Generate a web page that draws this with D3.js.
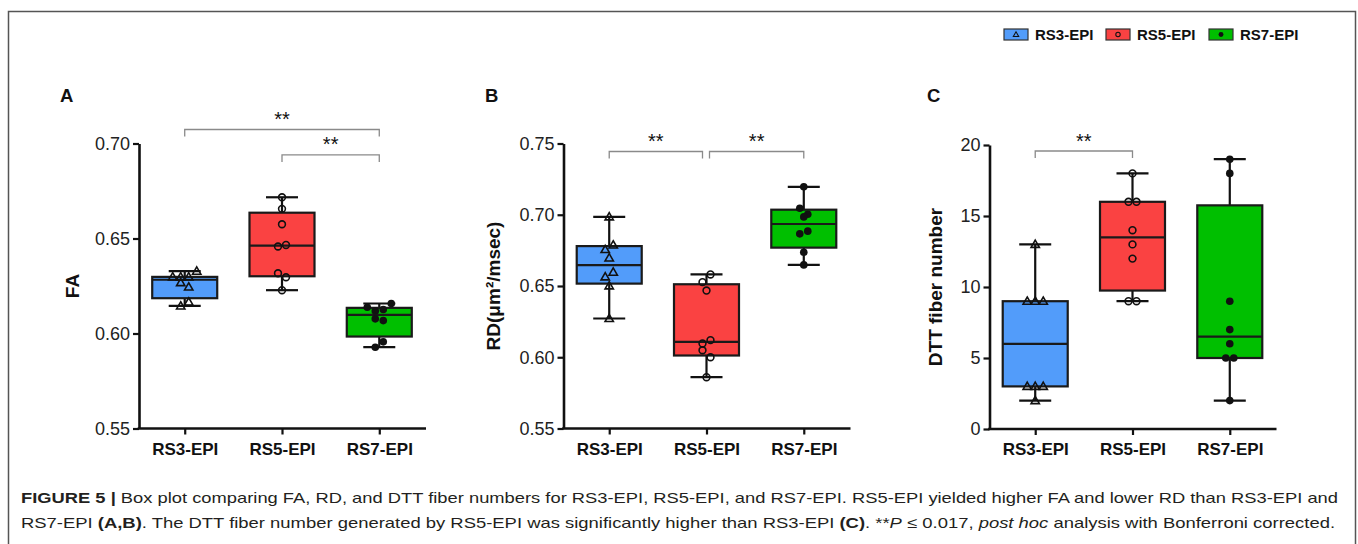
<!DOCTYPE html>
<html>
<head>
<meta charset="utf-8">
<script src="https://cdn.jsdelivr.net/npm/d3@7"></script>
<style>
  body { margin: 0; background: #fff; }
  svg { display: block; font-family: "Liberation Sans", Arial, sans-serif; }
</style>
</head>
<body>
<script>
// group names, shared by the three panels
const groups = ["RS3-EPI", "RS5-EPI", "RS7-EPI"];

// FA values per group
const faRS3 = [0.6298, 0.6298, 0.6298, 0.6328, 0.6268, 0.6245, 0.6145, 0.6166];
const faRS5 = [0.6717, 0.6656, 0.6575, 0.6458, 0.6466, 0.6317, 0.6296, 0.6228];
const faRS7 = [0.6138, 0.6119, 0.6126, 0.6158, 0.6077, 0.6068, 0.5928, 0.5956];

// RD values per group (panel B)
const rdRS3 = [0.6985, 0.6756, 0.6788, 0.6697, 0.6564, 0.6597, 0.6501, 0.6272];
const rdRS5 = [0.6527, 0.6581, 0.6468, 0.6096, 0.6120, 0.6049, 0.6000, 0.5860];
const rdRS7 = [0.7196, 0.7046, 0.7004, 0.6985, 0.6866, 0.6885, 0.6737, 0.6648];

// DTT fiber number per group (panel C)
const dttRS3 = [13, 9, 9, 9, 3, 3, 3, 2];
const dttRS5 = [18, 16, 16, 14, 13, 12, 9, 9];
const dttRS7 = [19, 18, 9, 7, 6, 5, 5, 2];

const faTicks = [0.55, 0.60, 0.65, 0.70];
const rdTicks = [0.55, 0.60, 0.65, 0.70, 0.75];
const dttTicks = [0, 5, 10, 15, 20];

const yTitles = ["FA", "RD(μm²/msec)", "DTT fiber number"];
const panelLetters = ["A", "B", "C"];

// significant pairs (group index) per panel, all "**"
const faPairs = [[0, 2], [1, 2]];
const rdPairs = [[0, 1], [1, 2]];
const dttPairs = [[0, 1]];

const captionLine1 = [
  {t: "FIGURE 5 | ", w: "bold"},
  {t: "Box plot comparing FA, RD, and DTT fiber numbers for RS3-EPI, RS5-EPI, and RS7-EPI. RS5-EPI yielded higher FA and lower RD than RS3-EPI and"}
];
const captionLine2 = [
  {t: "RS7-EPI "},
  {t: "(A,B)", w: "bold"},
  {t: ". The DTT fiber number generated by RS5-EPI was significantly higher than RS3-EPI "},
  {t: "(C)", w: "bold"},
  {t: ". **"},
  {t: "P", s: "italic"},
  {t: " ≤ 0.017, "},
  {t: "post hoc", s: "italic"},
  {t: " analysis with Bonferroni corrected."}
];

// ---- styles / layout ----
const fills = ["#529cfa", "#fa4242", "#00bf00"];
const marks = ["triangle", "circle", "dot"];

const W = 1358, H = 544;
const svg = d3.select("body").append("svg")
  .attr("width", W)
  .attr("height", H);

// figure frame
svg.append("path")
  .attr("d", "M8.5,544V11.5H1355.5V544")
  .attr("fill", "none")
  .attr("stroke", "#555")
  .attr("stroke-width", 1.5);

const panels = [
  {data: [faRS3, faRS5, faRS7], ticks: faTicks, fmt: d3.format(".2f"), pairs: faPairs,
   x0: 139, top: 143.5, bottom: 428.5, titleX: 72, letterX: 60, levels: [-14, 11.4]},
  {data: [rdRS3, rdRS5, rdRS7], ticks: rdTicks, fmt: d3.format(".2f"), pairs: rdPairs,
   x0: 563.5, top: 143.5, bottom: 428.5, titleX: 493, letterX: 485, levels: [8, 8]},
  {data: [dttRS3, dttRS5, dttRS7], ticks: dttTicks, fmt: d3.format("d"), pairs: dttPairs,
   x0: 989.5, top: 145, bottom: 429, titleX: 935, letterX: 927, levels: [6]}
];

// quartile the way Prism does it: position (n+1)p
function quart(sorted, p) {
  const n = sorted.length, pos = (n + 1) * p;
  const lo = Math.floor(pos), f = pos - lo;
  if (lo < 1) return sorted[0];
  if (lo >= n) return sorted[n - 1];
  return sorted[lo - 1] + f * (sorted[lo] - sorted[lo - 1]);
}

// spread points that sit on nearly the same height side by side
function spread(vals, y) {
  const order = d3.range(vals.length).sort((a, b) => vals[b] - vals[a]);
  const off = new Array(vals.length).fill(0);
  let row = [];
  const flush = () => {
    row.sort((a, b) => a - b);
    row.forEach((idx, k) => { off[idx] = (k - (row.length - 1) / 2) * 8; });
    row = [];
  };
  let first = null;
  order.forEach(i => {
    if (first !== null && Math.abs(y(vals[i]) - y(vals[first])) > 8.5) { flush(); first = null; }
    if (first === null) first = i;
    row.push(i);
  });
  flush();
  return off;
}

function marker(g, kind, x, y, scale) {
  const k = scale || 1;
  if (kind === "triangle") {
    g.append("path")
      .attr("d", d3.symbol(d3.symbolTriangle, 30 * k * k)())
      .attr("transform", `translate(${x},${y + 0.6 * k})`)
      .attr("fill", "none").attr("stroke", "#111").attr("stroke-width", 1.6 * k);
  } else if (kind === "circle") {
    g.append("circle").attr("cx", x).attr("cy", y).attr("r", 3.4 * k)
      .attr("fill", "none").attr("stroke", "#111").attr("stroke-width", 1.6 * k);
  } else {
    g.append("circle").attr("cx", x).attr("cy", y).attr("r", 3.8 * k)
      .attr("fill", "#111");
  }
}

panels.forEach((p, pi) => {
  const g = svg.append("g");
  const x = d3.scalePoint().domain(groups).range([p.x0, p.x0 + 286]).padding(0.47);
  const y = d3.scaleLinear().domain(d3.extent(p.ticks)).range([p.bottom, p.top]);

  // y axis
  const ya = g.append("g")
    .attr("transform", `translate(${p.x0},0)`)
    .call(d3.axisLeft(y).tickValues(p.ticks).tickFormat(p.fmt).tickSize(6).tickSizeOuter(0).tickPadding(3));
  ya.select(".domain").attr("stroke", "#111").attr("stroke-width", 2.6);
  ya.selectAll(".tick line").attr("stroke", "#111").attr("stroke-width", 2.2);
  ya.selectAll(".tick text").attr("font-size", 18).attr("fill", "#222")
    .attr("font-family", "'Liberation Sans', Arial, sans-serif");

  // x axis
  const xa = g.append("g")
    .attr("transform", `translate(0,${p.bottom})`)
    .call(d3.axisBottom(x).tickSize(6).tickSizeOuter(0).tickPadding(8));
  xa.select(".domain").attr("stroke", "#111").attr("stroke-width", 2.6)
    .attr("d", `M${p.x0 - 1.3},0H${p.x0 + 287}`);
  xa.selectAll(".tick line").attr("stroke", "#111").attr("stroke-width", 2.2);
  xa.selectAll(".tick text").attr("font-size", 17).attr("font-weight", "bold").attr("fill", "#111")
    .attr("font-family", "'Liberation Sans', Arial, sans-serif");

  // axis title
  g.append("text")
    .attr("transform", `translate(${p.titleX},${(p.top + p.bottom) / 2}) rotate(-90)`)
    .attr("text-anchor", "middle")
    .attr("dy", "0.35em")
    .attr("font-size", 19)
    .attr("font-weight", "bold")
    .attr("fill", "#111")
    .text(yTitles[pi]);

  // panel letter
  g.append("text")
    .attr("x", p.letterX).attr("y", 101.7)
    .attr("font-size", 18.5).attr("font-weight", "bold").attr("fill", "#111")
    .text(panelLetters[pi]);

  // boxes
  const bw = 65, cw = 32;
  p.data.forEach((vals, gi) => {
    const s = vals.slice().sort(d3.ascending);
    const cx = x(groups[gi]);
    const q1 = quart(s, 0.25), q3 = quart(s, 0.75), med = d3.median(s);
    const lo = s[0], hi = s[s.length - 1];
    const bg = g.append("g");
    bg.append("line").attr("x1", cx).attr("x2", cx).attr("y1", y(lo)).attr("y2", y(hi))
      .attr("stroke", "#111").attr("stroke-width", 2.2);
    [lo, hi].forEach(v => bg.append("line")
      .attr("x1", cx - cw / 2).attr("x2", cx + cw / 2).attr("y1", y(v)).attr("y2", y(v))
      .attr("stroke", "#111").attr("stroke-width", 2.2));
    bg.append("rect")
      .attr("x", cx - bw / 2).attr("width", bw)
      .attr("y", y(q3)).attr("height", y(q1) - y(q3))
      .attr("fill", fills[gi]).attr("stroke", "#1a1a1a").attr("stroke-width", 2.2);
    bg.append("line").attr("x1", cx - bw / 2).attr("x2", cx + bw / 2).attr("y1", y(med)).attr("y2", y(med))
      .attr("stroke", "#1a1a1a").attr("stroke-width", 2.2);

    const off = spread(vals, y);
    vals.forEach((v, i) => marker(bg, marks[gi], cx + off[i], y(v)));
  });

  // significance brackets
  p.pairs.forEach((pr, k) => {
    const by = p.top + p.levels[k];
    const shared = p.pairs.filter(o => o !== pr && p.levels[p.pairs.indexOf(o)] === p.levels[k]);
    let xa1 = x(groups[pr[0]]), xa2 = x(groups[pr[1]]);
    shared.forEach(o => {
      if (o[0] === pr[1]) xa2 -= 4;
      if (o[1] === pr[0]) xa1 += 3;
    });
    g.append("path")
      .attr("d", `M${xa1},${by + 7}V${by}H${xa2}V${by + 7}`)
      .attr("fill", "none").attr("stroke", "#8a8a8a").attr("stroke-width", 1.3);
    g.append("text")
      .attr("x", (xa1 + xa2) / 2).attr("y", by - 3.5)
      .attr("text-anchor", "middle").attr("font-size", 20).attr("fill", "#111")
      .text("**");
  });
});

// legend
const lg = svg.append("g");
const legendX = [1004, 1106, 1209];
groups.forEach((name, i) => {
  lg.append("rect").attr("x", legendX[i]).attr("y", 29).attr("width", 24).attr("height", 11)
    .attr("fill", fills[i]).attr("stroke", "#333").attr("stroke-width", 1.2);
  marker(lg, marks[i], legendX[i] + 12, 34.5, 0.65);
  lg.append("text").attr("x", legendX[i] + 31).attr("y", 40)
    .attr("font-size", 15).attr("font-weight", "bold").attr("fill", "#111")
    .text(name);
});

// caption
function caption(parts, yPos, len) {
  const t = svg.append("text")
    .attr("x", 21).attr("y", yPos)
    .attr("font-family", "'Liberation Sans Narrow', 'Arial Narrow', 'Liberation Sans', sans-serif")
    .attr("font-size", 15)
    .attr("fill", "#231f20")
    .attr("textLength", len)
    .attr("lengthAdjust", "spacingAndGlyphs");
  parts.forEach(pt => t.append("tspan")
    .attr("font-weight", pt.w || null)
    .attr("font-style", pt.s || null)
    .text(pt.t));
}
caption(captionLine1, 503, 1317);
caption(captionLine2, 528, 1314);
</script>
</body>
</html>
